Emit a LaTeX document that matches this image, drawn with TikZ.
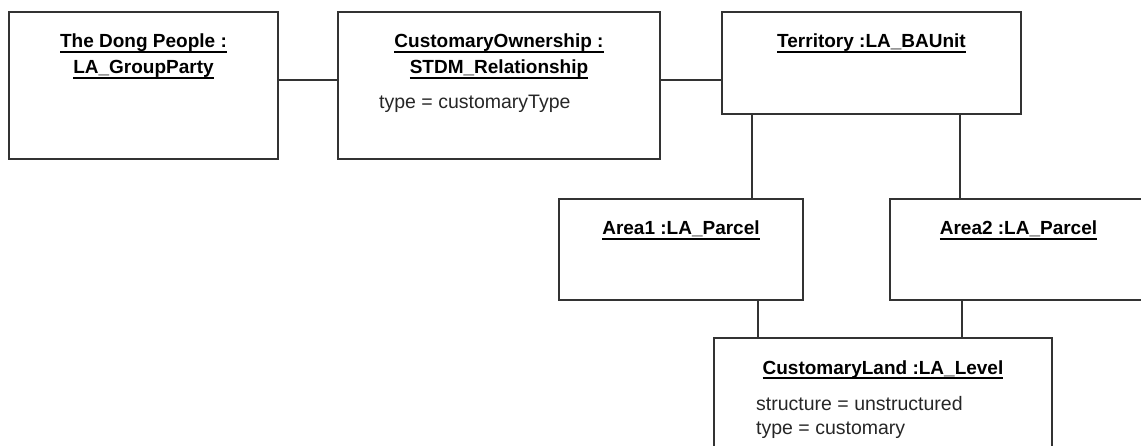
\documentclass[tikz,border=0pt]{standalone}
\usepackage{fontspec}
\setmainfont{Liberation Sans}
\newcommand{\ultext}[1]{\setbox0\hbox{#1}\rlap{\rule[-4.8pt]{\wd0}{1.6pt}}\box0}
\begin{document}
\begin{tikzpicture}[x=1pt,y=-1pt,
		objbox/.style={draw=black!80,line width=2pt,anchor=north west,inner sep=0pt,outer sep=0pt},
		titletext/.style={font=\fontsize{19}{26}\selectfont\bfseries,align=center,anchor=base,inner sep=0pt},
		attrtext/.style={font=\fontsize{19.5}{24}\selectfont,text=black!85,align=left,anchor=base west,inner sep=0pt},
		conn/.style={draw=black!80,line width=2pt}]
		\clip (0,0) rectangle (1141,446);
		\node [objbox,minimum width=269pt,minimum height=147pt] (dong) at (9,12) {};
		\node [objbox,minimum width=322pt,minimum height=147pt] (own) at (338,12) {};
		\node [objbox,minimum width=299pt,minimum height=102pt] (terr) at (722,12) {};
		\node [objbox,minimum width=244pt,minimum height=101pt] (area1) at (559,199) {};
		\node [objbox,minimum width=257pt,minimum height=101pt] (area2) at (890,199) {};
		\node [objbox,minimum width=338pt,minimum height=130pt] (land) at (714,338) {};
		\node [titletext] (dong-t) at ([yshift=-62pt]dong.north) {\ultext{The Dong People :}\\\ultext{LA\_GroupParty}};
		\node [titletext] (own-t) at ([yshift=-62pt]own.north) {\ultext{CustomaryOwnership :}\\\ultext{STDM\_Relationship}};
		\node [attrtext] (own-a) at ([xshift=41pt,yshift=-97pt]own.north west) {type = customaryType};
		\node [titletext] (terr-t) at ([yshift=-36pt]terr.north) {\ultext{Territory :LA\_BAUnit}};
		\node [titletext] (area1-t) at ([yshift=-36pt]area1.north) {\ultext{Area1 :LA\_Parcel}};
		\node [titletext] (area2-t) at ([yshift=-36pt]area2.north) {\ultext{Area2 :LA\_Parcel}};
		\node [titletext] (land-t) at ([yshift=-36pt]land.north) {\ultext{CustomaryLand :LA\_Level}};
		\node [attrtext] (land-a) at ([xshift=42pt,yshift=-96pt]land.north west) {structure = unstructured\\type = customary};
		\coordinate (row) at (0,80);
		\coordinate (c1) at (752,0);
		\coordinate (c2) at (960,0);
		\coordinate (c3) at (758,0);
		\coordinate (c4) at (962,0);
		\draw [conn] (dong.east |- row) -- (own.west |- row);
		\draw [conn] (own.east |- row) -- (terr.west |- row);
		\draw [conn] (terr.south -| c1) -- (area1.north -| c1);
		\draw [conn] (terr.south -| c2) -- (area2.north -| c2);
		\draw [conn] (area1.south -| c3) -- (land.north -| c3);
		\draw [conn] (area2.south -| c4) -- (land.north -| c4);
		\end{tikzpicture}
\end{document}
